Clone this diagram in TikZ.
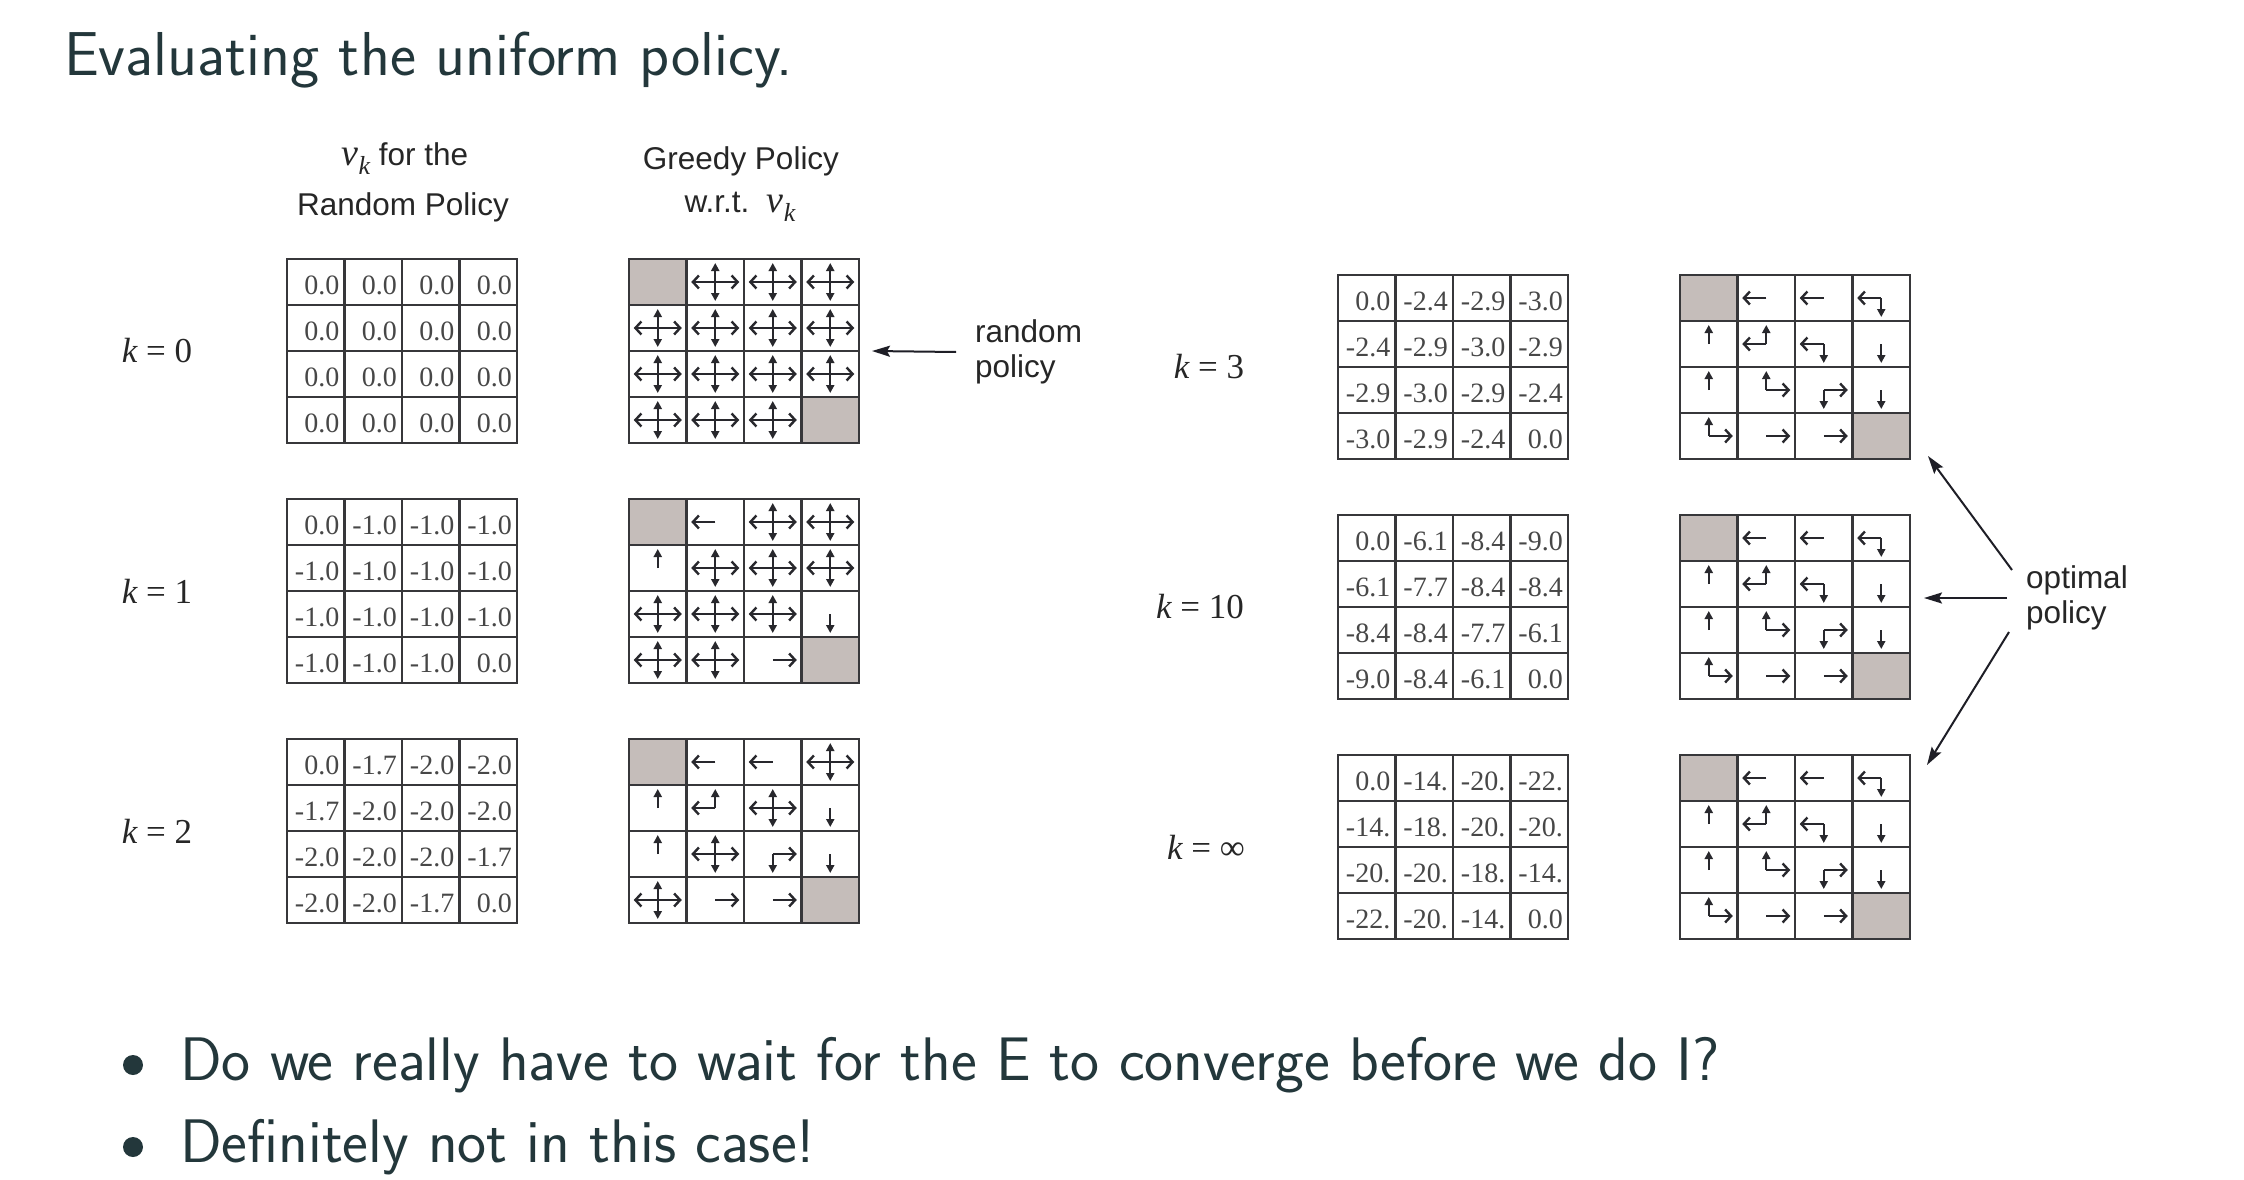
\documentclass[tikz,border=0pt]{standalone}
\usepackage{fontspec}
\newfontfamily\lsans{Liberation Sans}
\newfontfamily\lserif{Liberation Serif}
\usetikzlibrary{arrows.meta,calc}
\definecolor{slate}{RGB}{35,55,59}
\definecolor{term}{RGB}{197,189,186}
\definecolor{gline}{RGB}{55,55,58}
\definecolor{parr}{RGB}{40,40,45}
\definecolor{ink}{RGB}{30,30,38}
\tikzset{
  gridnode/.style={rectangle, inner sep=0pt, outer sep=0pt, minimum width=230pt, minimum height=184pt},
  gline/.style={draw=gline, line width=2.4pt},
  valtext/.style={font=\lserif\fontsize{28}{32}\selectfont, text=black!72, inner sep=0pt},
  pH/.style={draw=parr, line width=2.4pt, -{Straight Barb[length=6pt,width=13pt]}},
  pV/.style={draw=parr, line width=2.4pt, -{Triangle[length=8pt,width=8pt]}},
  klabel/.style={font=\lserif\fontsize{35}{40}\selectfont, text=black!85, inner sep=0pt},
  sanslabel/.style={font=\lsans\fontsize{31.5}{35}\selectfont, text=black!85, inner sep=0pt},
  callout/.style={draw=ink, line width=2pt, -{Stealth[length=18pt,width=11pt,inset=3pt]}},
  slidetext/.style={font=\fontsize{61.5}{72}\selectfont\sffamily, text=slate, inner sep=0pt},
}
\newcommand\vk{{\lserif\itshape\fontsize{38}{40}\selectfont v\raisebox{-9pt}{\fontsize{26}{30}\selectfont k}}}
\newcommand\gridlines{%
  \foreach \k in {1,2,3} {\draw[gline] ({\k*57.5},0) -- ({\k*57.5},184); \draw[gline] (0,{\k*46}) -- (230,{\k*46});}
  \draw[gline, line width=2.8pt] (0,0) rectangle (230,184);}
\newcommand\valgrid[4]{%
  \node[gridnode, anchor=north west] (#1) at (#2,#3) {};
  \begin{scope}[shift={(#1.north west)}]
    \foreach \v [count=\i from 0] in {#4} {%
      \pgfmathtruncatemacro\gr{floor(\i/4)}%
      \pgfmathtruncatemacro\gc{mod(\i,4)}%
      \node[valtext, anchor=base east] (#1-\i) at ({(\gc+1)*57.5-5},{(\gr+1)*46-11}) {\v};
    }
    \gridlines
  \end{scope}}
\newcommand\arrL[1]{\draw[pH] (#1) -- ++(-24,0);}
\newcommand\arrR[1]{\draw[pH] (#1) -- ++(24,0);}
\newcommand\arrU[1]{\draw[pV] (#1) -- ++(0,-19);}
\newcommand\arrD[1]{\draw[pV] (#1) -- ++(0,19);}
\newcommand\arrT[1]{\fill[term] ({\gc*57.5},{\gr*46}) rectangle ++(57.5,46);}
\newcommand\polgrid[4]{%
  \node[gridnode, anchor=north west] (#1) at (#2,#3) {};
  \begin{scope}[shift={(#1.north west)}]
    \foreach \p [count=\i from 0] in {#4} {%
      \pgfmathtruncatemacro\gr{floor(\i/4)}%
      \pgfmathtruncatemacro\gc{mod(\i,4)}%
      \coordinate (#1-\i) at ({(\gc+0.5)*57.5},{(\gr+0.5)*46});
      \foreach \d in \p {\csname arr\d\endcsname{#1-\i}}
    }
    \gridlines
  \end{scope}}
\begin{document}
\begin{tikzpicture}[x=1pt,y=-1pt]
\useasboundingbox (0,0) rectangle (2244,1180);
\fill[white] (0,0) rectangle (2244,1180);

% title and bullets
\node[slidetext, anchor=base west, font=\fontsize{62}{72}\selectfont\sffamily] (title) at (64,76) {Evaluating the uniform policy.};
\node[circle, fill=slate, minimum size=20pt, inner sep=0pt] (b1) at (133,1065) {};
\node[circle, fill=slate, minimum size=20pt, inner sep=0pt] (b2) at (133,1147) {};
\node[slidetext, anchor=base west] (l1) at (180,1080) {Do we really have to wait for the E to converge before we do I?};
\node[slidetext, anchor=base west] (l2) at (180,1162) {Definitely not in this case!};

% headers
\node[sanslabel, anchor=base] (h1a) at (405,166) {\vk\ for the};
\node[sanslabel, anchor=base] (h1b) at (403,215) {Random Policy};
\node[sanslabel, anchor=base] (h2a) at (741,169) {Greedy Policy};
\node[sanslabel, anchor=base] (h2b) at (740,212) {w.r.t.\ \ \vk};

% k labels
\node[klabel] (k0) at (157,351) {{\itshape k} = 0};
\node[klabel] (k1) at (157,591) {{\itshape k} = 1};
\node[klabel] (k2) at (157,831) {{\itshape k} = 2};
\node[klabel] (k3) at (1209,367) {{\itshape k} = 3};
\node[klabel] (k10) at (1200,607) {{\itshape k} = 10};
\node[klabel] (kinf) at (1206,847) {{\itshape k} = ∞};

% value grids
\valgrid{V0}{287}{259}{0.0,0.0,0.0,0.0,0.0,0.0,0.0,0.0,0.0,0.0,0.0,0.0,0.0,0.0,0.0,0.0}
\valgrid{V1}{287}{499}{0.0,-1.0,-1.0,-1.0,-1.0,-1.0,-1.0,-1.0,-1.0,-1.0,-1.0,-1.0,-1.0,-1.0,-1.0,0.0}
\valgrid{V2}{287}{739}{0.0,-1.7,-2.0,-2.0,-1.7,-2.0,-2.0,-2.0,-2.0,-2.0,-2.0,-1.7,-2.0,-2.0,-1.7,0.0}
\valgrid{V3}{1338}{275}{0.0,-2.4,-2.9,-3.0,-2.4,-2.9,-3.0,-2.9,-2.9,-3.0,-2.9,-2.4,-3.0,-2.9,-2.4,0.0}
\valgrid{V10}{1338}{515}{0.0,-6.1,-8.4,-9.0,-6.1,-7.7,-8.4,-8.4,-8.4,-8.4,-7.7,-6.1,-9.0,-8.4,-6.1,0.0}
\valgrid{Vinf}{1338}{755}{0.0,-14.,-20.,-22.,-14.,-18.,-20.,-20.,-20.,-20.,-18.,-14.,-22.,-20.,-14.,0.0}

% policy grids
\polgrid{G0}{629}{259}{{T},{L,R,U,D},{L,R,U,D},{L,R,U,D},{L,R,U,D},{L,R,U,D},{L,R,U,D},{L,R,U,D},{L,R,U,D},{L,R,U,D},{L,R,U,D},{L,R,U,D},{L,R,U,D},{L,R,U,D},{L,R,U,D},{T}}
\polgrid{G1}{629}{499}{{T},{L},{L,R,U,D},{L,R,U,D},{U},{L,R,U,D},{L,R,U,D},{L,R,U,D},{L,R,U,D},{L,R,U,D},{L,R,U,D},{D},{L,R,U,D},{L,R,U,D},{R},{T}}
\polgrid{G2}{629}{739}{{T},{L},{L},{L,R,U,D},{U},{L,U},{L,R,U,D},{D},{U},{L,R,U,D},{R,D},{D},{L,R,U,D},{R},{R},{T}}
\polgrid{G3}{1680}{275}{{T},{L},{L},{L,D},{U},{L,U},{L,D},{D},{U},{U,R},{R,D},{D},{U,R},{R},{R},{T}}
\polgrid{G10}{1680}{515}{{T},{L},{L},{L,D},{U},{L,U},{L,D},{D},{U},{U,R},{R,D},{D},{U,R},{R},{R},{T}}
\polgrid{Ginf}{1680}{755}{{T},{L},{L},{L,D},{U},{L,U},{L,D},{D},{U},{U,R},{R,D},{D},{U,R},{R},{R},{T}}

% callouts
\node[sanslabel, anchor=west, align=left] (rp) at (975,352) {random\\policy};
\node[sanslabel, anchor=west, align=left] (op) at (2026,598) {optimal\\policy};
\draw[callout] ([xshift=-19pt]rp.west) -- ($(G0.east)+(13,0)$);
\draw[callout] ([shift={(-14pt,28pt)}]op.west) -- ($(G3.south east)+(18,-3)$);
\draw[callout] ([xshift=-19pt]op.west) -- ($(G10.east |- op.west)+(14,0)$);
\draw[callout] ([shift={(-17pt,-34pt)}]op.west) -- ($(Ginf.north east)+(17,10)$);
\end{tikzpicture}
\end{document}
